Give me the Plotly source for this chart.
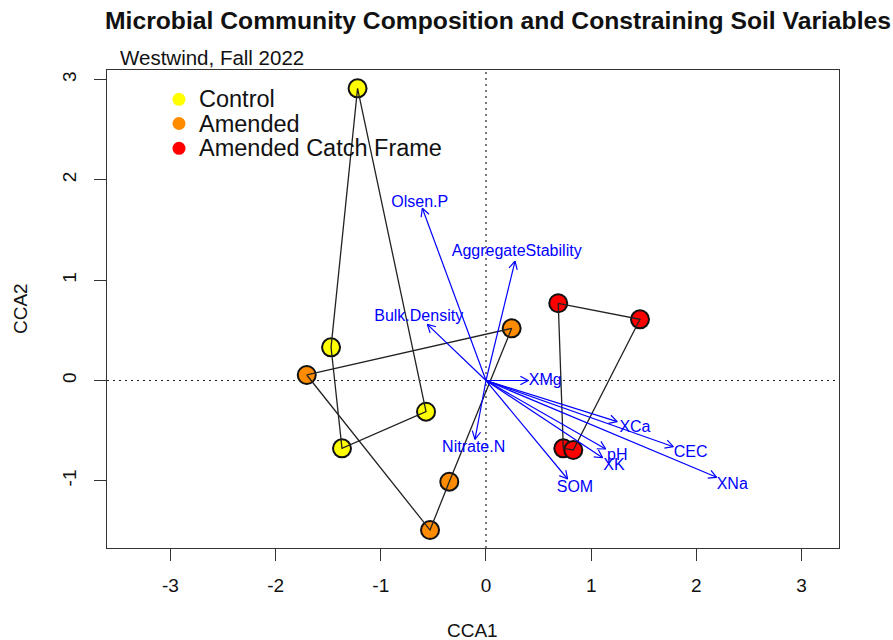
import math
import plotly.graph_objects as go

# ---------------- data ----------------
ctrl_x = [-1.221, -0.570, -1.369, -1.473]
ctrl_y = [2.913, -0.311, -0.676, 0.331]
amend_x = [-1.704, 0.244, -0.349, -0.532]
amend_y = [0.055, 0.520, -1.009, -1.491]
catch_x = [0.687, 0.735, 0.830, 1.464]
catch_y = [0.770, -0.676, -0.693, 0.610]

env_names = ["Olsen.P", "AggregateStability", "Bulk.Density", "XMg", "Nitrate.N",
             "XCa", "CEC", "pH", "XK", "XNa", "SOM"]
env_x = [-0.605, 0.276, -0.558, 0.402, -0.105, 1.248, 1.781, 1.138, 1.109, 2.193, 0.776]
env_y = [1.717, 1.191, 0.560, 0.0, -0.586, -0.410, -0.660, -0.683, -0.770, -0.965, -0.982]
lab_x = [-0.630, 0.292, -0.640, 0.564, -0.117, 1.416, 1.946, 1.248, 1.217, 2.341, 0.846]
lab_y = [1.772, 1.278, 0.636, 0.0, -0.676, -0.477, -0.720, -0.750, -0.849, -1.042, -1.069]

group_names = ["Control", "Amended", "Amended Catch Frame"]
group_colors = ["#FFFF00", "#FF8C00", "#FF0000"]
x_ticks = [-3, -2, -1, 0, 1, 2, 3]
y_ticks = [-1, 0, 1, 2, 3]

# ---------------- layout constants ----------------
W, H = 893, 640
ML, MR, MT, MB = 107, 54, 70, 92
XR = [-3.603, 3.356]
YR = [-1.670, 3.096]
PW, PH = W - ML - MR, H - MT - MB
SX = PW / (XR[1] - XR[0])
SY = PH / (YR[1] - YR[0])
FONT = "Liberation Sans, Arial, sans-serif"
BLUE = "#0000FF"

fig = go.Figure()

# points
groups = [(ctrl_x, ctrl_y), (amend_x, amend_y), (catch_x, catch_y)]
for (gx, gy), col in zip(groups, group_colors):
    fig.add_trace(go.Scatter(x=gx, y=gy, mode="markers", showlegend=False,
                             marker=dict(size=18, color=col,
                                         line=dict(color="#111111", width=2))))

# hulls (drawn over points)
for gx, gy in groups:
    fig.add_trace(go.Scatter(x=gx + gx[:1], y=gy + gy[:1], mode="lines",
                             showlegend=False,
                             line=dict(color="#222222", width=1.3)))

# arrows (shaft + open head computed in pixel space)
HL = 9.0
ANG = math.radians(28)
ax_, ay_ = [], []
for tx, ty in zip(env_x, env_y):
    px, py = tx * SX, -ty * SY
    n = math.hypot(px, py)
    ux, uy = px / n, py / n
    ax_ += [0, tx, None]
    ay_ += [0, ty, None]
    for s in (1, -1):
        c, si = math.cos(s * ANG), math.sin(s * ANG)
        rx = ux * c - uy * si
        ry = ux * si + uy * c
        hx = px - HL * rx
        hy = py - HL * ry
        ax_ += [hx / SX, tx, None]
        ay_ += [-hy / SY, ty, None]
fig.add_trace(go.Scatter(x=ax_, y=ay_, mode="lines", showlegend=False,
                         line=dict(color=BLUE, width=1.2)))

fig.add_trace(go.Scatter(x=lab_x, y=lab_y, mode="text", text=env_names,
                         textposition="middle center", showlegend=False,
                         textfont=dict(family=FONT, size=16, color=BLUE)))

shapes = [
    dict(type="line", xref="x", yref="paper", x0=0, x1=0, y0=0, y1=1,
         line=dict(color="#222222", width=1.2, dash="2px,4px"), layer="below"),
    dict(type="line", xref="paper", yref="y", x0=0, x1=1, y0=0, y1=0,
         line=dict(color="#222222", width=1.2, dash="2px,4px"), layer="below"),
]

annotations = [
    dict(text="Westwind, Fall 2022", xref="paper", yref="paper",
         x=(118 - ML) / PW, y=(H - MB - 57) / PH, xanchor="left", yanchor="middle",
         showarrow=False, font=dict(family=FONT, size=20.5, color="#111111")),
    dict(text="CCA1", xref="paper", yref="paper", x=(472 - ML) / PW, y=(H - MB - 630) / PH,
         xanchor="center", yanchor="middle", showarrow=False,
         font=dict(family=FONT, size=19, color="#111111")),
    dict(text="CCA2", xref="paper", yref="paper", x=(20 - ML) / PW, y=0.5,
         xanchor="center", yanchor="middle", showarrow=False, textangle=-90,
         font=dict(family=FONT, size=19, color="#111111")),
]

# legend (manual)
leg_y = [99.3, 123.5, 148.3]
for name, col, py in zip(group_names, group_colors, leg_y):
    yp = (H - MB - py) / PH
    xp = (179 - ML) / PW
    shapes.append(dict(type="circle", xref="paper", yref="paper",
                       xsizemode="pixel", ysizemode="pixel",
                       xanchor=xp, yanchor=yp, x0=-6.5, x1=6.5, y0=-6.5, y1=6.5,
                       fillcolor=col, line=dict(width=0)))
    annotations.append(dict(text=name, xref="paper", yref="paper",
                            x=(197 - ML) / PW, y=yp, xanchor="left", yanchor="middle",
                            showarrow=False,
                            font=dict(family=FONT, size=23.5, color="#111111")))

axis_common = dict(showgrid=False, zeroline=False, showline=True, mirror=True,
                   linecolor="#333333", linewidth=1.3, ticks="outside",
                   ticklen=12, tickwidth=1.2, tickcolor="#333333",
                   tickfont=dict(family=FONT, size=19, color="#111111"))

fig.update_layout(
    width=W, height=H,
    margin=dict(l=ML, r=MR, t=MT, b=MB, autoexpand=False),
    paper_bgcolor="white", plot_bgcolor="white",
    title=dict(text="<b>Microbial Community Composition and Constraining Soil Variables</b>",
               xref="container", yref="container", x=498 / W, y=1 - 20 / H,
               xanchor="center", yanchor="middle",
               font=dict(family=FONT, size=24.7, color="#111111")),
    xaxis=dict(range=XR, tickvals=x_ticks, ticktext=[str(v) for v in x_ticks],
               ticklabelstandoff=8, **axis_common),
    yaxis=dict(range=YR, tickvals=y_ticks, ticktext=[str(v) for v in y_ticks],
               tickangle=-90, ticklabelstandoff=10, **axis_common),
    shapes=shapes, annotations=annotations, showlegend=False,
)

fig.write_html("out.html", config={"displayModeBar": False},
               post_script="document.body.style.margin='0';document.body.style.padding='0';")
